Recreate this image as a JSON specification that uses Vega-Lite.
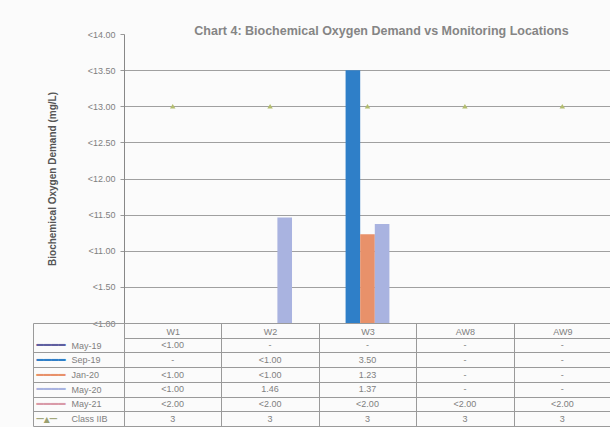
{
  "$schema": "https://vega.github.io/schema/vega-lite/v6.json",
  "background": "#fbfbfb",
  "padding": {"left": 32, "top": 24, "right": 0, "bottom": 0},
  "config": {"font": "Liberation Sans", "view": {"stroke": "#9a9a9a"}},
  "datasets": {
    "cells": [
      {"loc": "W1", "series": "May-19", "label": "<1.00", "value": null},
      {"loc": "W2", "series": "May-19", "label": "-", "value": null},
      {"loc": "W3", "series": "May-19", "label": "-", "value": null},
      {"loc": "AW8", "series": "May-19", "label": "-", "value": null},
      {"loc": "AW9", "series": "May-19", "label": "-", "value": null},
      {"loc": "W1", "series": "Sep-19", "label": "-", "value": null},
      {"loc": "W2", "series": "Sep-19", "label": "<1.00", "value": null},
      {"loc": "W3", "series": "Sep-19", "label": "3.50", "value": 3.5},
      {"loc": "AW8", "series": "Sep-19", "label": "-", "value": null},
      {"loc": "AW9", "series": "Sep-19", "label": "-", "value": null},
      {"loc": "W1", "series": "Jan-20", "label": "<1.00", "value": null},
      {"loc": "W2", "series": "Jan-20", "label": "<1.00", "value": null},
      {"loc": "W3", "series": "Jan-20", "label": "1.23", "value": 1.23},
      {"loc": "AW8", "series": "Jan-20", "label": "-", "value": null},
      {"loc": "AW9", "series": "Jan-20", "label": "-", "value": null},
      {"loc": "W1", "series": "May-20", "label": "<1.00", "value": null},
      {"loc": "W2", "series": "May-20", "label": "1.46", "value": 1.46},
      {"loc": "W3", "series": "May-20", "label": "1.37", "value": 1.37},
      {"loc": "AW8", "series": "May-20", "label": "-", "value": null},
      {"loc": "AW9", "series": "May-20", "label": "-", "value": null},
      {"loc": "W1", "series": "May-21", "label": "<2.00", "value": null},
      {"loc": "W2", "series": "May-21", "label": "<2.00", "value": null},
      {"loc": "W3", "series": "May-21", "label": "<2.00", "value": null},
      {"loc": "AW8", "series": "May-21", "label": "<2.00", "value": null},
      {"loc": "AW9", "series": "May-21", "label": "<2.00", "value": null},
      {"loc": "W1", "series": "Class IIB", "label": "3", "value": 3},
      {"loc": "W2", "series": "Class IIB", "label": "3", "value": 3},
      {"loc": "W3", "series": "Class IIB", "label": "3", "value": 3},
      {"loc": "AW8", "series": "Class IIB", "label": "3", "value": 3},
      {"loc": "AW9", "series": "Class IIB", "label": "3", "value": 3}
    ]
  },
  "spacing": 0,
  "bounds": "flush",
  "resolve": {"scale": {"x": "independent", "y": "independent"}},
  "vconcat": [
    {
      "width": 487,
      "height": 289,
      "view": {"stroke": null},
      "title": {"text": "Chart 4: Biochemical Oxygen Demand vs Monitoring Locations", "fontSize": 12.5, "fontWeight": "bold", "color": "#858585", "anchor": "middle", "dx": 14, "offset": -7},
      "data": {"name": "cells"},
      "encoding": {
        "x": {"field": "loc", "type": "nominal", "sort": null, "scale": {"domain": ["W1", "W2", "W3", "AW8", "AW9"], "paddingInner": 0.25, "paddingOuter": 0.125}, "axis": null},
        "y": {
          "field": "value", "type": "quantitative",
          "scale": {"domain": [0, 4], "nice": false, "zero": true},
          "axis": {
            "values": [0, 0.5, 1, 1.5, 2, 2.5, 3, 3.5, 4],
            "labelOverlap": false,
            "labelExpr": "'<1' + (datum.value < 1 ? substring(format(datum.value, '.2f'), 1) : format(datum.value, '.2f'))",
            "title": "Biochemical Oxygen Demand (mg/L)",
            "titleFontSize": 10, "titleFontWeight": "bold", "titleColor": "#555555", "titlePadding": 30,
            "labelFontSize": 9, "labelColor": "#808080", "labelPadding": 5,
            "tickSize": 4, "tickColor": "#999999", "domainColor": "#888888",
            "grid": true,
            "gridColor": {"condition": {"test": "datum.value == 4", "value": "transparent"}, "value": "#a0a0a0"}
          }
        }
      },
      "layer": [
        {
          "transform": [{"filter": "datum.value != null && datum.series != 'Class IIB'"}],
          "mark": {"type": "bar"},
          "encoding": {
            "xOffset": {"field": "series", "type": "nominal", "scale": {"domain": ["May-19", "Sep-19", "Jan-20", "May-20", "May-21"], "paddingInner": 0, "paddingOuter": 0}},
            "color": {
              "field": "series", "type": "nominal",
              "scale": {"domain": ["May-19", "Sep-19", "Jan-20", "May-20", "May-21"], "range": ["#5f5fa0", "#2f7fc8", "#e8916a", "#a9b3e0", "#d99aa8"]},
              "legend": null
            }
          }
        },
        {
          "transform": [{"filter": "datum.series == 'Class IIB'"}],
          "mark": {"type": "point", "shape": "triangle-up", "filled": true, "size": 30, "color": "#b3bd6e", "opacity": 1}
        }
      ]
    },
    {
      "width": 487,
      "height": 103,
      "data": {"name": "cells"},
      "resolve": {"axis": {"y": "independent"}},
      "layer": [
        {
          "mark": {"type": "text", "fontSize": 9, "color": "#808080"},
          "encoding": {
            "x": {
              "field": "loc", "type": "nominal", "sort": null,
              "scale": {"domain": ["W1", "W2", "W3", "AW8", "AW9"], "paddingInner": 0, "paddingOuter": 0},
              "axis": {"orient": "top", "title": null, "ticks": false, "domain": false, "labelPadding": -8, "labelBaseline": "middle", "labelFontSize": 9, "labelColor": "#808080", "labelAngle": 0, "grid": true, "tickBand": "extent", "gridColor": "#9a9a9a"}
            },
            "y": {
              "field": "series", "type": "nominal", "sort": null,
              "scale": {"domain": [" ", "May-19", "Sep-19", "Jan-20", "May-20", "May-21", "Class IIB"], "paddingInner": 0, "paddingOuter": 0},
              "axis": {"orient": "left", "title": null, "tickBand": "extent", "grid": true, "gridColor": "#9a9a9a", "tickSize": 91,
                "tickColor": {"condition": {"test": "datum.value == ' '", "value": "transparent"}, "value": "#9a9a9a"},
                "domain": true, "domainColor": "#9a9a9a", "labelAlign": "left", "labelPadding": -38, "labelFontSize": 9, "labelColor": "#808080", "labelBaseline": "middle"}
            },
            "text": {"field": "label"}
          }
        },
        {
          "mark": {"type": "text", "opacity": 0},
          "encoding": {
            "y": {
              "field": "series", "type": "nominal", "sort": null,
              "axis": {
                "orient": "left", "offset": 91, "title": null, "ticks": false, "grid": false, "domain": true, "domainColor": "#9a9a9a",
                "labelAlign": "left", "labelPadding": -3, "labelFont": "DejaVu Sans", "labelFontSize": 12, "labelBaseline": "middle",
                "labelExpr": "datum.value == 'Class IIB' ? '─▴─' : (datum.value == ' ' ? '' : '━━━━')",
                "labelColor": {
                  "condition": [
                    {"test": "datum.value == 'May-19'", "value": "#5f5fa0"},
                    {"test": "datum.value == 'Sep-19'", "value": "#2f7fc8"},
                    {"test": "datum.value == 'Jan-20'", "value": "#e8916a"},
                    {"test": "datum.value == 'May-20'", "value": "#a9b3e0"},
                    {"test": "datum.value == 'May-21'", "value": "#d99aa8"}
                  ],
                  "value": "#9aa070"
                }
              }
            }
          }
        }
      ]
    }
  ]
}
